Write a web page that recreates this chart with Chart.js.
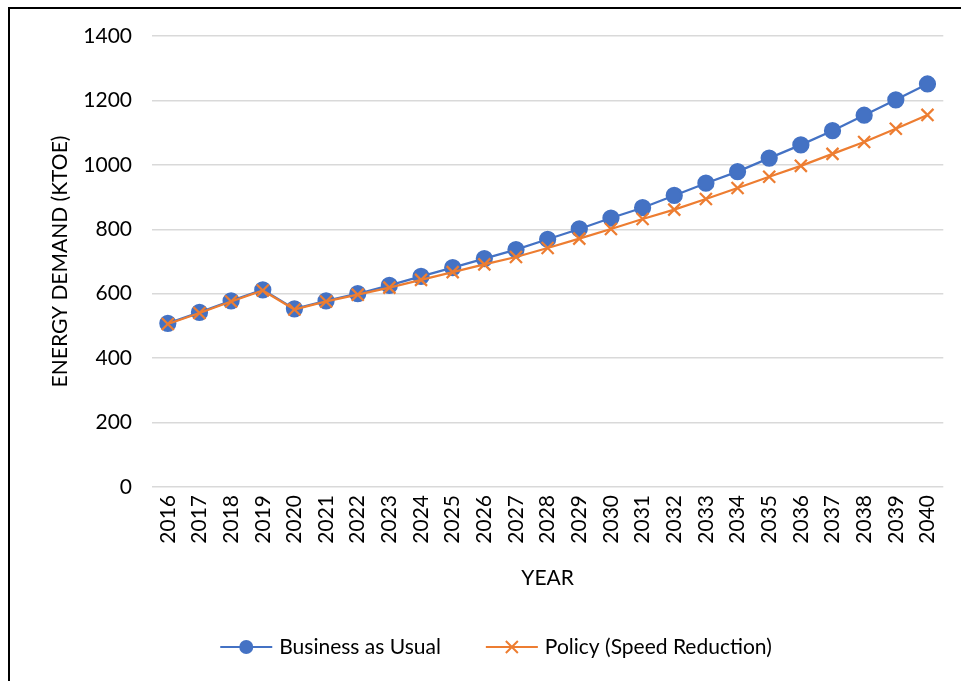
<!DOCTYPE html>
<html>
<head>
<meta charset="utf-8">
<script src="https://cdn.jsdelivr.net/npm/chart.js@4"></script>
<style>
  html, body { margin: 0; padding: 0; background: #fff; overflow: hidden; }
  #wrap { position: absolute; left: 0; top: 0; width: 961px; height: 681px; }
  #frame { position: absolute; left: 8px; top: 7px; width: 1000px; height: 800px;
           border-left: 2px solid #000; border-top: 2px solid #000; }
</style>
</head>
<body>
<div id="wrap">
  <div id="frame"></div>
  <canvas id="chart" width="961" height="681"></canvas>
</div>
<script>
const years = ['2016', '2017', '2018', '2019', '2020', '2021', '2022', '2023', '2024', '2025', '2026', '2027', '2028',
  '2029', '2030', '2031', '2032', '2033', '2034', '2035', '2036', '2037', '2038', '2039', '2040'];
const businessAsUsual = [508, 542, 578, 612, 553, 578, 600, 626, 654, 681, 709, 737, 769,
  801, 835, 867, 905, 943, 979, 1021, 1062, 1106, 1154, 1202, 1251];
const policySpeedReduction = [506, 540, 576, 610, 551, 576, 597, 619, 643, 667, 691, 714, 742,
  771, 801, 832, 861, 894, 928, 963, 997, 1034, 1071, 1112, 1155];
const yTicks = [0, 200, 400, 600, 800, 1000, 1200, 1400];

const FONT = 'Lato, "Open Sans", sans-serif';
const FS = 21;
const BLUE = '#4472C4';
const ORANGE = '#ED7D31';

// legend with a line through each marker, like the original
const lineLegend = {
  id: 'lineLegend',
  afterDraw(chart) {
    const ctx = chart.ctx;
    const items = chart.data.datasets;
    ctx.save();
    ctx.font = FS + 'px ' + FONT;
    const seg = 52, gap = 7, between = 45;
    let total = 0;
    items.forEach((d, i) => {
      total += seg + gap + ctx.measureText(d.label).width + (i ? between : 0);
    });
    let x = 496 - total / 2;
    const y = 647;
    items.forEach((d, i) => {
      if (i) x += between;
      ctx.strokeStyle = d.borderColor;
      ctx.lineWidth = 2;
      ctx.beginPath();
      ctx.moveTo(x, y);
      ctx.lineTo(x + seg, y);
      ctx.stroke();
      const cx = x + seg / 2;
      if (d.pointStyle === 'circle') {
        ctx.fillStyle = d.pointBackgroundColor;
        ctx.beginPath();
        ctx.arc(cx, y, 7, 0, Math.PI * 2);
        ctx.fill();
      } else {
        ctx.strokeStyle = d.pointBorderColor;
        ctx.beginPath();
        ctx.moveTo(cx - 6, y - 6); ctx.lineTo(cx + 6, y + 6);
        ctx.moveTo(cx - 6, y + 6); ctx.lineTo(cx + 6, y - 6);
        ctx.stroke();
      }
      x += seg + gap;
      ctx.fillStyle = '#000';
      ctx.textBaseline = 'middle';
      ctx.fillText(d.label, x, y);
      x += ctx.measureText(d.label).width;
    });
    ctx.restore();
  }
};

new Chart(document.getElementById('chart'), {
  type: 'line',
  data: {
    labels: years,
    datasets: [
      {
        label: 'Business as Usual',
        data: businessAsUsual,
        order: 2,
        borderColor: BLUE,
        backgroundColor: BLUE,
        pointBackgroundColor: BLUE,
        pointBorderColor: BLUE,
        pointStyle: 'circle',
        pointRadius: 7.5,
        borderWidth: 2.25,
        tension: 0
      },
      {
        label: 'Policy (Speed Reduction)',
        data: policySpeedReduction,
        order: 1,
        borderColor: ORANGE,
        backgroundColor: ORANGE,
        pointBackgroundColor: ORANGE,
        pointBorderColor: ORANGE,
        pointStyle: 'crossRot',
        pointRadius: 8.5,
        pointBorderWidth: 2.25,
        borderWidth: 2.25,
        tension: 0
      }
    ]
  },
  options: {
    responsive: false,
    animation: false,
    layout: { padding: { left: 44, right: 17, top: 36, bottom: 86 } },
    plugins: { legend: { display: false }, tooltip: { enabled: false } },
    scales: {
      x: {
        offset: true,
        grid: { display: false, drawTicks: false },
        border: { display: false },
        ticks: { color: '#000', font: { family: FONT, size: FS }, minRotation: 90, maxRotation: 90, padding: 8, autoSkip: false },
        title: { display: true, text: 'YEAR', color: '#000', font: { family: FONT, size: FS } },
        afterFit(scale) { scale.height = 108; }
      },
      y: {
        min: 0,
        max: 1400,
        afterBuildTicks(scale) { scale.ticks = yTicks.map(v => ({ value: v })); },
        grid: { color: '#d9d9d9', lineWidth: 1.5, drawTicks: false },
        border: { display: false },
        ticks: { color: '#000', font: { family: FONT, size: FS }, padding: 20, callback: v => String(v) },
        title: { display: true, text: 'ENERGY DEMAND (KTOE)', color: '#000', font: { family: FONT, size: FS } },
        afterFit(scale) { scale.width = 108; }
      }
    }
  },
  plugins: [lineLegend]
});
</script>
</body>
</html>
